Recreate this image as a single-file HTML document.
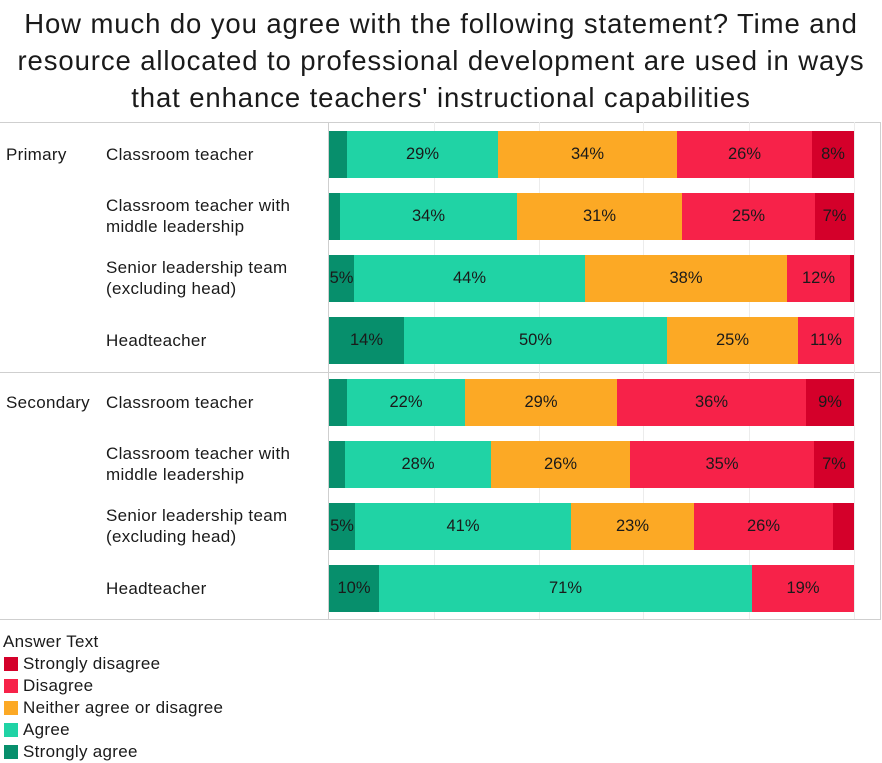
<!DOCTYPE html>
<html><head><meta charset="utf-8"><style>
body{margin:0;width:882px;height:763px;background:#fff;font-family:"Liberation Sans",sans-serif;color:#1a1a1a;position:relative;overflow:hidden}
.a{position:absolute}
.t{position:absolute;left:0;width:882px;text-align:center;font-size:27.5px;line-height:37px;top:5px;letter-spacing:0.9px;white-space:nowrap}
.lbl{position:absolute;font-size:17px;line-height:21px;letter-spacing:0.3px}
.seg{position:absolute;height:47px;line-height:47px;text-align:center;font-size:16.5px;overflow:visible;white-space:nowrap}
.sa{background:#078f6c}.ag{background:#20d3a5}.ne{background:#fca925}.di{background:#f72249}.sd{background:#d4002a}
.hl{position:absolute;height:1px;background:#cfcfcf}
.vl{position:absolute;width:1px;background:#ececec;top:122px;height:497px}
.lg{position:absolute;left:4px;width:14px;height:14px}
.lt{position:absolute;left:23px;font-size:17px;line-height:20px;letter-spacing:0.3px}
</style></head><body>
<div class="t">How much do you agree with the following statement? Time and<br>resource allocated to professional development are used in ways<br>that enhance teachers' instructional capabilities</div>
<div class="hl" style="left:0;width:881px;top:122px"></div>
<div class="hl" style="left:0;width:881px;top:372px"></div>
<div class="hl" style="left:0;width:881px;top:619px"></div>
<div class="a" style="left:880px;top:122px;width:1px;height:497px;background:#cfcfcf"></div>
<div class="vl" style="left:434px"></div><div class="vl" style="left:539px"></div><div class="vl" style="left:643px"></div><div class="vl" style="left:749px"></div><div class="vl" style="left:854px"></div>
<div class="a" style="left:328px;top:122px;width:1px;height:497px;background:#cfcfcf"></div>

<div class="lbl" style="left:6px;top:144px">Primary</div>
<div class="lbl" style="left:6px;top:392px">Secondary</div>
<div class="lbl" style="left:106px;top:144px">Classroom teacher</div>
<div class="lbl" style="left:106px;top:195px">Classroom teacher with<br>middle leadership</div>
<div class="lbl" style="left:106px;top:257px">Senior leadership team<br>(excluding head)</div>
<div class="lbl" style="left:106px;top:330px">Headteacher</div>
<div class="lbl" style="left:106px;top:392px">Classroom teacher</div>
<div class="lbl" style="left:106px;top:443px">Classroom teacher with<br>middle leadership</div>
<div class="lbl" style="left:106px;top:505px">Senior leadership team<br>(excluding head)</div>
<div class="lbl" style="left:106px;top:578px">Headteacher</div>

<div class="seg sa" style="top:131px;left:329px;width:18px"></div>
<div class="seg ag" style="top:131px;left:347px;width:151px">29%</div>
<div class="seg ne" style="top:131px;left:498px;width:179px">34%</div>
<div class="seg di" style="top:131px;left:677px;width:135px">26%</div>
<div class="seg sd" style="top:131px;left:812px;width:42px">8%</div>

<div class="seg sa" style="top:193px;left:329px;width:11px"></div>
<div class="seg ag" style="top:193px;left:340px;width:177px">34%</div>
<div class="seg ne" style="top:193px;left:517px;width:165px">31%</div>
<div class="seg di" style="top:193px;left:682px;width:133px">25%</div>
<div class="seg sd" style="top:193px;left:815px;width:39px">7%</div>

<div class="seg sa" style="top:255px;left:329px;width:25px">5%</div>
<div class="seg ag" style="top:255px;left:354px;width:231px">44%</div>
<div class="seg ne" style="top:255px;left:585px;width:202px">38%</div>
<div class="seg di" style="top:255px;left:787px;width:63px">12%</div>
<div class="seg sd" style="top:255px;left:850px;width:4px"></div>

<div class="seg sa" style="top:317px;left:329px;width:75px">14%</div>
<div class="seg ag" style="top:317px;left:404px;width:263px">50%</div>
<div class="seg ne" style="top:317px;left:667px;width:131px">25%</div>
<div class="seg di" style="top:317px;left:798px;width:56px">11%</div>

<div class="seg sa" style="top:379px;left:329px;width:18px"></div>
<div class="seg ag" style="top:379px;left:347px;width:118px">22%</div>
<div class="seg ne" style="top:379px;left:465px;width:152px">29%</div>
<div class="seg di" style="top:379px;left:617px;width:189px">36%</div>
<div class="seg sd" style="top:379px;left:806px;width:48px">9%</div>

<div class="seg sa" style="top:441px;left:329px;width:16px"></div>
<div class="seg ag" style="top:441px;left:345px;width:146px">28%</div>
<div class="seg ne" style="top:441px;left:491px;width:139px">26%</div>
<div class="seg di" style="top:441px;left:630px;width:184px">35%</div>
<div class="seg sd" style="top:441px;left:814px;width:40px">7%</div>

<div class="seg sa" style="top:503px;left:329px;width:26px">5%</div>
<div class="seg ag" style="top:503px;left:355px;width:216px">41%</div>
<div class="seg ne" style="top:503px;left:571px;width:123px">23%</div>
<div class="seg di" style="top:503px;left:694px;width:139px">26%</div>
<div class="seg sd" style="top:503px;left:833px;width:21px"></div>

<div class="seg sa" style="top:565px;left:329px;width:50px">10%</div>
<div class="seg ag" style="top:565px;left:379px;width:373px">71%</div>
<div class="seg di" style="top:565px;left:752px;width:102px">19%</div>

<div class="lt" style="left:3px;top:632px">Answer Text</div>
<div class="lg sd" style="top:657px"></div><div class="lt" style="top:654px">Strongly disagree</div>
<div class="lg di" style="top:679px"></div><div class="lt" style="top:676px">Disagree</div>
<div class="lg ne" style="top:701px"></div><div class="lt" style="top:698px">Neither agree or disagree</div>
<div class="lg ag" style="top:723px"></div><div class="lt" style="top:720px">Agree</div>
<div class="lg sa" style="top:745px"></div><div class="lt" style="top:742px">Strongly agree</div>
</body></html>
